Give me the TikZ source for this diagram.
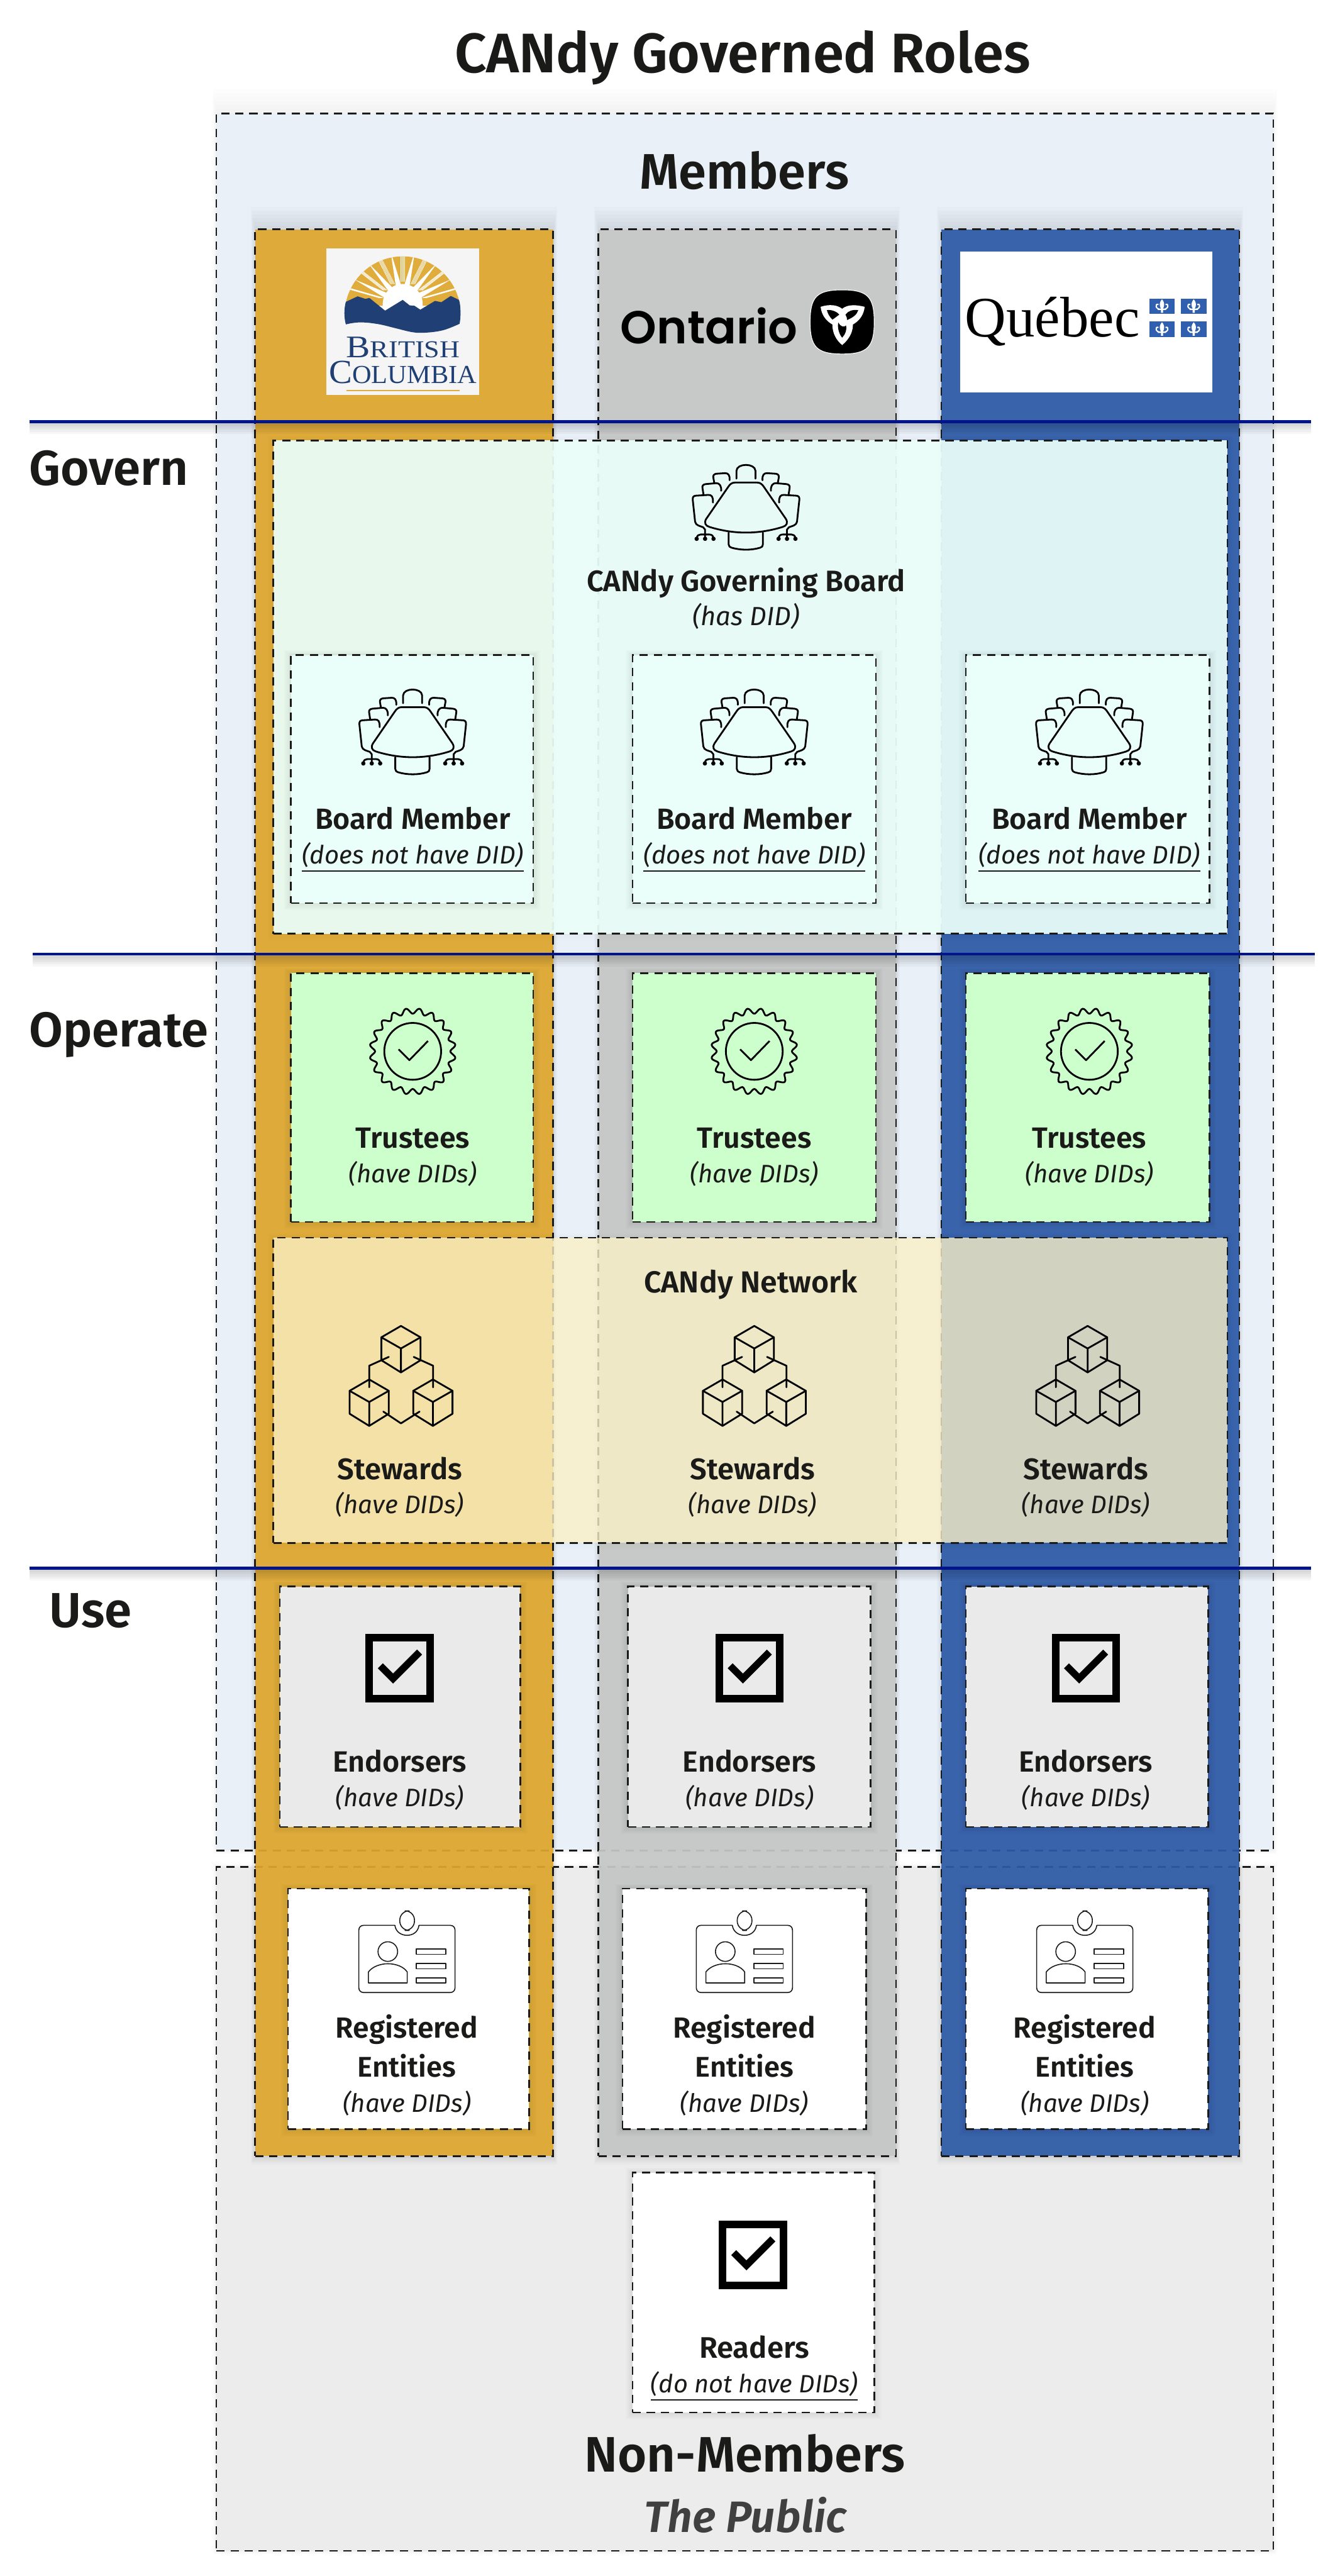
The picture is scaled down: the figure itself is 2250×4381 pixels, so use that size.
\documentclass[tikz,border=0pt]{standalone}
\usepackage{graphicx}
\usepackage{fontspec}
\usetikzlibrary{calc}
\setmainfont{Fira Sans}[BoldFont={Fira Sans SemiBold},ItalicFont={Fira Sans Italic},BoldItalicFont={Fira Sans SemiBold Italic}]
\newfontfamily\serifbc{Liberation Serif}
\newfontfamily\ontf{Poppins SemiBold}
\definecolor{ink}{HTML}{1A1A18}
\definecolor{goldc}{RGB}{223,167,46}
\definecolor{greyc}{RGB}{198,200,199}
\definecolor{bluec}{RGB}{46,92,167}
\definecolor{membg}{HTML}{EAF0F8}
\definecolor{nonbg}{HTML}{ECECEC}
\definecolor{mint}{HTML}{EBFFFA}
\definecolor{mintin}{HTML}{EAFFF9}
\definecolor{trust}{HTML}{CCFFCC}
\definecolor{pale}{HTML}{FCF2C8}
\definecolor{endo}{HTML}{EAEAEA}
\definecolor{navy}{HTML}{00148C}
\definecolor{bcnavy}{HTML}{1F3F75}
\definecolor{bcgold}{HTML}{E0AC3B}
\definecolor{qcblue}{HTML}{2F5FAE}
\tikzset{
  dashbox/.style={draw=ink,line width=1.4pt,dash pattern=on 7pt off 5pt,inner sep=0pt,outer sep=0pt,rectangle},
  txt/.style={inner sep=0pt,outer sep=0pt,text=ink,anchor=base},
  icon/.style={line width=1.5pt,draw=black,line join=round,line cap=round},
  thinicon/.style={line width=.85pt,draw=ink,line join=round},
  divider/.style={draw=navy,line width=2.5pt}
}
% x1 y1 x2 y2 side top bottom layer-opacity
\newcommand{\softbox}[8]{\foreach \k in {1,...,6}{\fill[black,opacity=#8] ({#1-#5*\k/6},{#2-#6*\k/6}) rectangle ({#3+#5*\k/6},{#4+#7*\k/6});}}
% name x1 y1 x2 y2 options
\newcommand{\dbox}[6]{\node[dashbox,#6,minimum width={(#4-#2)*0.5pt},minimum height={(#5-#3)*0.5pt}] (#1) at ({(#2+#4)/2},{(#3+#5)/2}) {};}
\newcommand{\rolebox}[6]{\softbox{#2}{#3}{#4}{#5}{12}{8}{12}{.012}\dbox{#1}{#2}{#3}{#4}{#5}{#6}}
% name cx baseline width text
\newcommand{\lab}[5]{\node[txt] (#1) at (#2,#3) {\resizebox{\dimexpr #4pt/2\relax}{!}{#5}};}
\newcommand{\bfl}[1]{\bfseries #1}
\newcommand{\itl}[1]{\itshape #1}
\newcommand{\boardside}{%
  \draw[icon] (648,472) .. controls (650,440) and (640,433) .. (625,433) -- (560,437) .. controls (548,438) and (544,445) .. (545,458) -- (557,570) .. controls (560,590) and (585,592) .. (598,598) -- (608,610) -- (608,650);
  \draw[icon] (565,655) .. controls (567,640) and (575,635) .. (585,635) -- (630,635) .. controls (642,635) and (650,642) .. (651,655);
  \fill (565,657) circle (11) (608,657) circle (11) (651,657) circle (11);
  \draw[icon] (690,412) .. controls (692,385) and (680,373) .. (665,373) -- (610,378) .. controls (597,380) and (592,387) .. (595,400) -- (600,432);
  \draw[icon] (733,358) .. controls (735,330) and (725,322) .. (710,322) -- (665,325) .. controls (652,327) and (648,335) .. (650,345) -- (655,372);
}
\newcommand{\boardicon}[2]{\begin{scope}[shift={(#1,#2)},scale=1/3]
  \begin{scope}[shift={(-817,-500)}]\boardside\end{scope}
  \begin{scope}[xscale=-1,shift={(-817,-500)}]\boardside\end{scope}
  \begin{scope}[shift={(-817,-500)}]
  \draw[icon] (768,350) -- (768,310) .. controls (770,270) and (863,270) .. (865,310) -- (865,350);
  \draw[icon] (760,370) -- (874,370) .. controls (890,370) and (900,380) .. (908,392) -- (1020,555) .. controls (1032,575) and (1025,590) .. (1005,596) .. controls (880,635) and (754,635) .. (629,596) .. controls (609,590) and (602,575) .. (614,555) -- (726,392) .. controls (734,380) and (744,370) .. (760,370) -- cycle;
  \draw[icon] (728,625) -- (728,685) .. controls (728,695) and (735,700) .. (742,702) .. controls (790,716) and (845,716) .. (890,702) .. controls (898,700) and (903,695) .. (903,685) -- (903,625);
  \end{scope}
\end{scope}}
\newcommand{\sealicon}[2]{\begin{scope}[shift={(#1,#2)},scale=1/3]
  \draw[icon] plot[domain=0:360,samples=241,smooth] (\x:{206-14*cos(20*\x)}) -- cycle;
  \draw[icon] (0,0) circle (145);
  \draw[icon,line cap=butt] (-72,-10) -- (-17,45) -- (78,-53);
\end{scope}}
\newcommand{\onecube}{%
  \draw[icon] (0,-115) -- (100,-57) -- (100,60) -- (0,122) -- (-100,60) -- (-100,-57) -- cycle;
  \draw[icon] (-100,-57) -- (0,0) -- (100,-57) (0,0) -- (0,122);
}
\newcommand{\cubeicon}[2]{\begin{scope}[shift={(#1,#2)},scale=1/3]
  \begin{scope}[shift={(0,-140)}]\onecube\end{scope}
  \begin{scope}[shift={(-162,133)}]\onecube\end{scope}
  \begin{scope}[shift={(163,133)}]\onecube\end{scope}
  \draw[icon] (-62,-97) -- (-162,-52) -- (-162,58);
  \draw[icon] (65,-97) -- (164,-52) -- (164,58);
  \draw[icon] (-90,182) -- (0,242) -- (95,182);
\end{scope}}
\newcommand{\checkicon}[2]{\begin{scope}[shift={(#1,#2)},scale=1/3]
  \draw[black,line width=6.4pt] (-155,-156) rectangle (155,156);
  \draw[black,line width=6pt,line join=miter] (-99,-12) -- (-34,53) -- (101,-82);
\end{scope}}
\newcommand{\badgeicon}[2]{\begin{scope}[shift={(#1,#2)},scale=1/3,shift={(-786,-418)}]
  \draw[thinicon] (566,284) -- (725,284) .. controls (730,320) and (760,335) .. (787,335) .. controls (815,335) and (843,320) .. (848,284) -- (1007,284) .. controls (1022,284) and (1032,294) .. (1032,309) -- (1032,602) .. controls (1032,617) and (1022,627) .. (1007,627) -- (566,627) .. controls (551,627) and (541,617) .. (541,602) -- (541,309) .. controls (541,294) and (551,284) .. (566,284) -- cycle;
  \draw[thinicon,rounded corners=8pt] (750,210) rectangle (825,310);
  \draw[thinicon] (689,418) circle (50);
  \draw[thinicon] (590,578) -- (590,522) .. controls (610,495) and (650,480) .. (690,480) .. controls (730,480) and (770,495) .. (788,522) -- (788,578) -- cycle;
  \draw[thinicon] (835,405) rectangle (985,432) (835,479) rectangle (985,506) (835,552) rectangle (985,578);
\end{scope}}
\newcommand{\fleur}[2]{\begin{scope}[shift={(#1,#2)}]
  \fill[white] (0,-12) .. controls (5,-6) and (4.5,-2) .. (1.8,4) -- (1.8,11) -- (-1.8,11) -- (-1.8,4) .. controls (-4.5,-2) and (-5,-6) .. (0,-12) -- cycle;
  \draw[white,line width=1.1pt] (1,5) .. controls (12,6) and (12,-6) .. (6,-3) (-1,5) .. controls (-12,6) and (-12,-6) .. (-6,-3) (-7,5) -- (7,5);
\end{scope}}
\begin{document}
\begin{tikzpicture}[x=0.5pt,y=-0.5pt]
\useasboundingbox (0,0) rectangle (2250,4381);
\fill[white] (0,0) rectangle (2250,4381);
% outer panels
\softbox{368}{193}{2166}{3147}{6}{42}{6}{.008}
\dbox{members}{368}{193}{2166}{3147}{fill=membg}
\softbox{368}{3175}{2166}{4338}{6}{6}{6}{.008}
\dbox{nonmembers}{368}{3175}{2166}{4338}{fill=nonbg}
% columns
\softbox{434}{390}{941}{3667}{7}{38}{14}{.017}
\softbox{1018}{390}{1524}{3667}{7}{38}{14}{.017}
\softbox{1601}{390}{2108}{3667}{7}{38}{14}{.017}
\dbox{colbc}{434}{390}{941}{3667}{fill=goldc,fill opacity=.93}
\dbox{colon}{1018}{390}{1524}{3667}{fill=greyc,fill opacity=.93}
\dbox{colqc}{1601}{390}{2108}{3667}{fill=bluec,fill opacity=.93}
% BC logo
\fill[white!96!black] (555,423) rectangle (815,672);
\begin{scope}
  \clip (685,534.7) circle (98.7);
  \fill[bcgold] (580,430) rectangle (790,520);
  \foreach \a in {-74,-52,-27,0,27,52,74}{
    \foreach \o in {-3.2,-1.1,1.1,3.2}{\draw[white,line width=.45pt] ({685+\o},517) ++({\a-90}:{38}) -- ++({\a-90}:{70});}
  }
  \foreach \a in {-63,-40,-13,13,40,63}{
    \fill[white] ($(685,517)+({\a-90-9}:{30})$) -- ($(685,517)+({\a-90}:{92})$) -- ($(685,517)+({\a-90+9}:{30})$) -- cycle;
  }
  \fill[white] (685,517) circle (34);
\end{scope}
\fill[bcnavy] (588.3,513.3) -- (608.3,504) -- (621.7,508.3) -- (628.3,506.7) -- (655,528.3) -- (685,510) -- (696.7,519.3) -- (705,520) -- (715,526.7) -- (740,511.7) -- (750.7,514) -- (766.7,503.3) -- (780.7,510) .. controls (784,520) and (784,540) .. (781.7,550.7) .. controls (770,556) and (760,560) .. (753.3,561.7) .. controls (740,565) and (725,566) .. (713.3,566) .. controls (700,566) and (685,561) .. (673.3,558.3) .. controls (660,555) and (650,552) .. (640,550.7) .. controls (630,549) and (620,548) .. (610,548.3) .. controls (600,549) and (595,550) .. (588.3,551.7) .. controls (585,540) and (585,525) .. (588.3,513.3) -- cycle;
\node[inner sep=0pt,outer sep=0pt,anchor=base,text=bcnavy] (bc1) at (685.5,608) {\resizebox{96.5pt}{17.5pt}{\serifbc\fontsize{13}{13}\selectfont B\fontsize{10}{10}\selectfont RITISH}};
\node[inner sep=0pt,outer sep=0pt,anchor=base,text=bcnavy] (bc2) at (685.5,652) {\resizebox{125.5pt}{19pt}{\serifbc\fontsize{13}{13}\selectfont C\fontsize{10}{10}\selectfont OLUMBIA}};
\draw[bcgold,line width=1pt] (589,664) -- (782,664);
% Ontario logo
\node[inner sep=0pt,outer sep=0pt,anchor=base,text=black] (ontario) at (1206,584) {\resizebox{150.5pt}{!}{\ontf Ontario}};
\begin{scope}[shift={(1432.5,547.5)}]
  \draw[white,line width=.6pt,fill=black] (0,-54.5) .. controls (43,-54.5) and (54.5,-43) .. (54.5,0) .. controls (54.5,43) and (43,54.5) .. (0,54.5) .. controls (-43,54.5) and (-54.5,43) .. (-54.5,0) .. controls (-54.5,-43) and (-43,-54.5) .. (0,-54.5) -- cycle;
  \begin{scope}[scale=1/3,shift={(-215,-232)}]
    \fill[white] (105,155) .. controls (150,140) and (190,145) .. (215,165) .. controls (245,140) and (290,145) .. (330,155) .. controls (325,195) and (305,225) .. (270,245) .. controls (270,290) and (245,325) .. (215,350) .. controls (185,325) and (165,290) .. (165,245) .. controls (130,225) and (110,195) .. (105,155) -- cycle;
    \fill[black] (137,172) .. controls (160,168) and (190,180) .. (200,195) .. controls (185,205) and (175,215) .. (165,220) .. controls (150,205) and (142,190) .. (137,172) -- cycle;
    \fill[black] (297,172) .. controls (270,168) and (245,175) .. (232,195) .. controls (238,205) and (240,212) .. (240,222) .. controls (270,210) and (290,195) .. (297,172) -- cycle;
    \fill[black] (195,235) .. controls (190,265) and (200,295) .. (215,312) .. controls (232,295) and (240,270) .. (235,250) .. controls (225,262) and (205,255) .. (195,235) -- cycle;
  \end{scope}
\end{scope}
% Quebec logo
\fill[white] (1633,428) rectangle (2062,667);
\node[inner sep=0pt,outer sep=0pt,anchor=base,text=black] (quebec) at (1790,573) {\resizebox{148.5pt}{!}{\serifbc Québec}};
\foreach \x/\y in {1955/508,2009/508,1955/547,2009/547}{\fill[qcblue] (\x,\y) rectangle ++(43,26);\fleur{\x+21.5}{\y+13}}
% translucent bands
\softbox{465}{749}{2088}{1588}{10}{8}{12}{.004}
\dbox{boardband}{465}{749}{2088}{1588}{fill=mint,fill opacity=.93}
\softbox{465}{2105}{2088}{2624}{10}{8}{12}{.004}
\dbox{netband}{465}{2105}{2088}{2624}{fill=pale,fill opacity=.79}
% role boxes
\foreach \i/\a/\b/\c in {1/495/907/702,2/1076/1490/1283,3/1643/2057/1853}{
  \rolebox{bm\i}{\a}{1114}{\b}{1536}{fill=mintin}
  \boardicon{\c}{1246}
  \lab{bmt\i}{\c}{1410}{332}{\bfl{Board Member}}
  \lab{bms\i}{\c}{1469}{377}{\underline{\itl{(does not have DID)}}}
  \rolebox{tr\i}{\a}{1655}{\b}{2078}{fill=trust}
  \sealicon{\c}{1788}
  \lab{trt\i}{\c}{1952}{194}{\bfl{Trustees}}
  \lab{trs\i}{\c}{2011}{218}{\itl{(have DIDs)}}
}
\foreach \i/\c/\d in {1/680/682,2/1280/1283,3/1847/1850}{
  \cubeicon{\d}{2340}
  \lab{stt\i}{\c}{2516}{212}{\bfl{Stewards}}
  \lab{sts\i}{\c}{2574}{218}{\itl{(have DIDs)}}
}
\foreach \i/\a/\b/\c in {1/476/885/680,2/1068/1481/1275,3/1643/2055/1847}{
  \rolebox{en\i}{\a}{2698}{\b}{3107}{fill=endo}
  \checkicon{\c}{2837}
  \lab{ent\i}{\c}{3013}{227}{\bfl{Endorsers}}
  \lab{ens\i}{\c}{3072}{218}{\itl{(have DIDs)}}
}
\foreach \i/\a/\b/\c in {1/490/900/692,2/1059/1473/1266,3/1643/2055/1845}{
  \rolebox{re\i}{\a}{3212}{\b}{3621}{fill=white}
  \badgeicon{\c}{3319}
  \lab{ret\i}{\c}{3466}{242}{\bfl{Registered}}
  \lab{reu\i}{\c}{3532}{167}{\bfl{Entities}}
  \lab{res\i}{\c}{3592}{218}{\itl{(have DIDs)}}
}
\rolebox{rd}{1076}{3695}{1487}{4103}{fill=white}
\checkicon{1281}{3835}
\lab{rdt}{1283}{4010}{187}{\bfl{Readers}}
\lab{rds}{1283}{4069}{352}{\underline{\itl{(do not have DIDs)}}}
% band labels
\boardicon{1269}{864}
\lab{gbt}{1269}{1006}{542}{\bfl{CANdy Governing Board}}
\lab{gbs}{1269}{1064}{182}{\itl{(has DID)}}
\lab{nett}{1277}{2198}{363}{\bfl{CANdy Network}}
% headings
\lab{title}{1263}{123}{979}{\bfl{CANdy Governed Roles}}
\lab{memh}{1266}{321}{356}{\bfl{Members}}
\lab{nonh}{1267}{4204}{545}{\bfl{Non-Members}}
\node[txt,text=black!75] (public) at (1268,4307) {\resizebox{172pt}{!}{\bfseries\itshape The Public}};
\lab{gov}{185}{825}{271}{\bfl{Govern}}
\lab{ope}{202}{1780}{305}{\bfl{Operate}}
\lab{use}{154}{2767}{140}{\bfl{Use}}
% dividers
\coordinate (l1a) at (50,717); \coordinate (l1b) at (2230,717);
\coordinate (l2a) at (56,1622.5); \coordinate (l2b) at (2236,1622.5);
\coordinate (l3a) at (50,2667); \coordinate (l3b) at (2230,2667);
\foreach \y/\xa/\xb in {717/50/2230,1622.5/56/2236,2667/50/2230}{\foreach \k in {1,...,6}{\fill[black,opacity=.03] (\xa,{\y-2}) rectangle (\xb,{\y+\k*3.5});}}
\draw[divider] (l1a) -- (l1b);
\draw[divider] (l2a) -- (l2b);
\draw[divider] (l3a) -- (l3b);
\end{tikzpicture}
\end{document}
